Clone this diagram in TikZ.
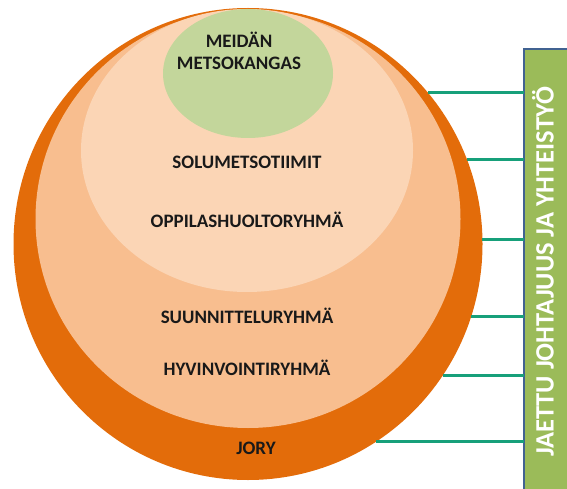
\documentclass[tikz,border=0pt]{standalone}
\usepackage{fontspec}
\setmainfont{Carlito}
\usetikzlibrary{calc,shapes.geometric}
\definecolor{joryorange}{RGB}{227,108,10}
\definecolor{midorange}{RGB}{248,190,143}
\definecolor{lightorange}{RGB}{251,213,181}
\definecolor{forestgreen}{RGB}{195,214,155}
\definecolor{sharegreen}{RGB}{155,187,89}
\definecolor{shareborder}{RGB}{65,98,145}
\definecolor{linkteal}{RGB}{23,160,122}
\tikzset{
  layer/.style={ellipse, draw=none, inner sep=0pt, outer sep=0pt},
  grouplabel/.style={anchor=base, text=black!90, font=\fontsize{19}{22}\selectfont\bfseries, align=center},
  link/.style={line width=3pt, color=linkteal}
}

\begin{document}
\begin{tikzpicture}[x=1pt, y=-1pt]
			%%%%% START %%%%%
			\useasboundingbox (0, 0) rectangle (567, 489);
			
			\node[layer, fill=joryorange, minimum width=469, minimum height=472] (jory) at (248, 244) {};
			\node[layer, fill=midorange, minimum width=425, minimum height=418] (planning) at (248, 219) {};
			\node[layer, fill=lightorange, minimum width=332, minimum height=283] (teams) at (247, 150.5) {};
			\node[layer, fill=forestgreen, minimum width=170, minimum height=129] (forest) at (248, 73.5) {};
			
			\node[grouplabel] (forestlabel) at (239, 70) {MEIDÄN\\METSOKANGAS};
			\node[grouplabel] (cells) at (247, 169) {SOLUMETSOTIIMIT};
			\node[grouplabel] (care) at (247, 227) {OPPILASHUOLTORYHMÄ};
			\node[grouplabel] (plan) at (247, 323) {SUUNNITTELURYHMÄ};
			\node[grouplabel] (wellbeing) at (247, 375) {HYVINVOINTIRYHMÄ};
			\node[grouplabel] (jorylabel) at (256, 454) {JORY};
			
			\node[draw=shareborder, line width=1.6pt, fill=sharegreen, minimum width=48, minimum height=445, anchor=north west, inner sep=0pt, outer sep=0pt] (shared) at (524, 49) {};
			\node[rotate=90, anchor=base, text=white, font=\fontsize{26.5}{30}\selectfont\bfseries] (sharedlabel) at (553.5, 272) {JAETTU JOHTAJUUS JA YHTEISTYÖ};
			
			\foreach \a in {40.9, 21.5, 1.7, -18.1, -34.2, -57.9}
				\draw[link] (jory.\a) -- (jory.\a -| shared.west);
			
			%%%%% END %%%%%
\end{tikzpicture}
\end{document}
